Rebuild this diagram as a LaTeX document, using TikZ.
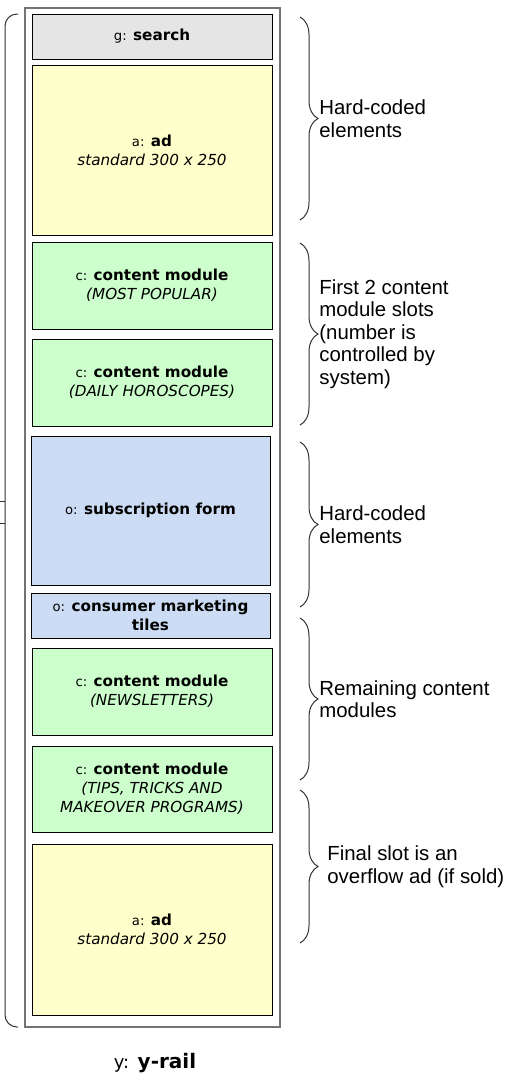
\documentclass[tikz,border=0pt]{standalone}
\usepackage{fontspec}
\setmainfont{DejaVu Sans}
\newfontfamily\notefont{Liberation Sans}
\usetikzlibrary{decorations.pathreplacing}

\definecolor{slotGray}{RGB}{229,229,229}
\definecolor{slotYellow}{RGB}{255,255,204}
\definecolor{slotGreen}{RGB}{204,255,204}
\definecolor{slotBlue}{RGB}{204,220,244}
\newcommand{\slotname}[2]{{\fontsize{6.6}{9.5}\selectfont #1:} \textbf{#2}}

\begin{document}
\begin{tikzpicture}[x=0.5pt, y=-0.5pt, slotStyle/.style={rectangle, draw=black, line width=0.5pt, minimum width=120pt, inner sep=0pt, align=center, font=\fontsize{7.6}{9.5}\selectfont}, railStyle/.style={rectangle, draw=black!55, line width=0.7pt, minimum width=127.5pt, minimum height=509.5pt}, braceStyle/.style={decorate, decoration={brace, amplitude=9pt}, draw=black!80, line width=0.5pt}, noteStyle/.style={anchor=west, align=left, inner sep=0pt, font=\notefont\fontsize{10.2}{11.3}\selectfont}]
                    \useasboundingbox (0,0) rectangle (506,1078);

                    \node[railStyle] (rail) at (152.5, 517.5) {};

                    \node[slotStyle, fill=slotGray,   minimum height=22.5pt] (search) at (152,  36.5) {\slotname{g}{search}};
                    \node[slotStyle, fill=slotYellow, minimum height=85pt]   (ad_0)   at (152, 150)   {\slotname{a}{ad}\\\textit{standard 300 x 250}};
                    \node[slotStyle, fill=slotGreen,  minimum height=43.5pt] (cm_0)   at (152, 285.5) {\slotname{c}{content module}\\\textit{(MOST POPULAR)}};
                    \node[slotStyle, fill=slotGreen,  minimum height=43.5pt] (cm_1)   at (152, 382.5) {\slotname{c}{content module}\\\textit{(DAILY HOROSCOPES)}};
                    \node[slotStyle, fill=slotBlue,   minimum height=74.5pt, minimum width=119.5pt] (sub)   at (150.5, 510.5) {\slotname{o}{subscription form}};
                    \node[slotStyle, fill=slotBlue,   minimum height=22.5pt, minimum width=119.5pt] (tiles) at (150.5, 615.5) {\slotname{o}{consumer marketing}\\\textbf{tiles}};
                    \node[slotStyle, fill=slotGreen,  minimum height=43.5pt] (cm_2)   at (152, 691.5) {\slotname{c}{content module}\\\textit{(NEWSLETTERS)}};
                    \node[slotStyle, fill=slotGreen,  minimum height=43pt]   (cm_3)   at (152, 789)   {\slotname{c}{content module}\\\textit{(TIPS, TRICKS AND}\\\textit{MAKEOVER PROGRAMS)}};
                    \node[slotStyle, fill=slotYellow, minimum height=85.5pt] (ad_1)   at (152, 929.5) {\slotname{a}{ad}\\\textit{standard 300 x 250}};

                    \node (railLabel) at (155, 1063) {{\fontsize{9}{10}\selectfont y:} {\fontsize{10}{12}\selectfont\textbf{y-rail}}};

                    \draw[draw=black!80, line width=0.5pt, rounded corners=6pt] (18, 14) -- (5, 14) -- (5, 1027) -- (18, 1027);
                    \draw[draw=black!80, line width=0.5pt] (5, 501) -- (0, 501) (0, 523) -- (5, 523);

                    \draw[braceStyle] (300,  17) -- (300, 220);
                    \draw[braceStyle] (300, 243) -- (300, 425);
                    \draw[braceStyle] (300, 442) -- (300, 607);
                    \draw[braceStyle] (300, 618) -- (300, 780);
                    \draw[braceStyle] (300, 790) -- (300, 943);

                    \node[noteStyle] (note_0) at (319, 118.5) {Hard-coded\\elements};
                    \node[noteStyle] (note_1) at (319, 334)   {First 2 content\\module slots\\(number is\\controlled by\\system)};
                    \node[noteStyle] (note_2) at (319, 524.5) {Hard-coded\\elements};
                    \node[noteStyle] (note_3) at (319, 699)   {Remaining content\\modules};
                    \node[noteStyle] (note_4) at (327, 866.5) {Final slot is an\\overflow ad (if sold)};
                \end{tikzpicture}
\end{document}
